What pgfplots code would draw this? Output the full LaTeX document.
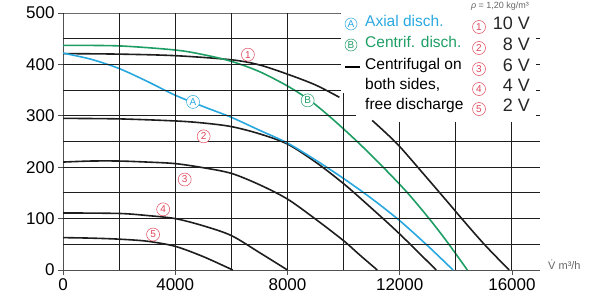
\documentclass[border=0pt]{standalone}
\usepackage{fontspec}
\setmainfont{Liberation Sans}
\usepackage{pgfplots}
\pgfplotsset{compat=1.18}
\definecolor{cblue}{RGB}{41,168,224}
\definecolor{cgreen}{RGB}{30,158,100}
\definecolor{cred}{RGB}{222,70,90}
\definecolor{gridc}{RGB}{80,80,80}
\definecolor{curvec}{RGB}{30,30,30}
\tikzset{
  lab/.style={circle, draw=cred, line width=0.5pt, fill=white, text=cred, inner sep=0pt, minimum size=13pt, font=\fontsize{10}{10}\selectfont},
  labA/.style={lab, draw=cblue, text=cblue},
  labB/.style={lab, draw=cgreen, text=cgreen},
  lgt/.style={anchor=mid west, inner sep=0pt, font=\fontsize{15.5}{15.5}\selectfont},
  lgv/.style={anchor=mid east, inner sep=0pt, font=\fontsize{18}{18}\selectfont, text=black!85},
}
\pgfplotsset{gridplot/.style={curvec, line width=1pt, smooth, mark=none}}
\begin{document}
\begin{tikzpicture}
\begin{axis}[
  name=ax, at={(63pt,28pt)}, anchor=south west,
  width=477pt, height=257pt, scale only axis,
  xmin=0, xmax=17000, ymin=0, ymax=500,
  axis x line*=bottom, axis y line*=left,
  axis line style={-, gridc, line width=0.9pt},
  xtick={0,4000,8000,12000,16000},
  ytick={0,100,200,300,400,500},
  major tick length=5pt, tick align=outside,
  tick style={gridc, line width=0.8pt},
  scaled x ticks=false,
  /pgf/number format/1000 sep={},
  /pgf/number format/assume math mode=true,
  tick label style={font=\fontsize{17}{17}\selectfont},
]
% 10 V
\addplot[curvec, line width=1.6pt, smooth] coordinates {(0,421) (2000,420) (4000,417) (6000,409) (7000,399) (8000,381) (9000,360) (9850,336)};
\addplot[curvec, line width=1.6pt, smooth] coordinates {(11020,291) (11900,246) (12800,190) (13760,129) (14210,100) (15030,49) (15900,0)};
% 8 V
\addplot[curvec, line width=1.6pt, smooth] coordinates {(0,295) (2000,294) (4000,290) (5000,286) (6000,279) (7000,265) (8000,245) (9000,210) (10000,168) (11000,120) (12000,70) (13300,0)};
% 6 V
\addplot[curvec, line width=1.6pt, smooth] coordinates {(0,210) (1000,212) (2000,212) (3000,210) (4000,207) (5000,199) (6000,188) (7000,166) (8000,138) (9000,99) (10000,57) (10560,30) (11200,0)};
% 4 V
\addplot[curvec, line width=1.6pt, smooth] coordinates {(0,111) (2000,110) (3000,106) (4000,100) (5000,86) (6000,67) (7000,34) (8000,0)};
% 2 V
\addplot[curvec, line width=1.6pt, smooth] coordinates {(0,63) (1000,62) (2000,60) (3000,56) (4000,46) (5000,26) (6050,0)};
% Axial
\addplot[cblue, line width=1.6pt, smooth] coordinates {(0,422) (1000,410) (2000,392) (3000,367) (4000,340) (5000,318) (6000,297) (7000,272) (8000,247) (9000,214) (10000,178) (11000,139) (12000,96) (13000,47) (13900,0)};
% Centrifugal
\addplot[cgreen, line width=1.6pt, smooth] coordinates {(0,437) (2000,436) (4000,428) (5000,419) (6000,406) (7000,386) (8000,358) (8800,330) (9600,294) (10560,246) (11500,195) (12280,150) (13050,100) (13700,54) (14410,0)};

% grid lines (the legend area at the top right is left free)
\addplot[gridplot] coordinates {(2000,0) (2000,250) (2000,500)};
\addplot[gridplot] coordinates {(4000,0) (4000,250) (4000,500)};
\addplot[gridplot] coordinates {(6000,0) (6000,250) (6000,500)};
\addplot[gridplot] coordinates {(8000,0) (8000,250) (8000,500)};
\addplot[gridplot] coordinates {(10000,0) (10000,172) (10000,344)};
\addplot[gridplot] coordinates {(12000,0) (12000,143) (12000,287)};
\addplot[gridplot] coordinates {(14000,0) (14000,143) (14000,287)};
\addplot[gridplot] coordinates {(16000,0) (16000,143) (16000,287)};
\addplot[gridplot] coordinates {(0,50) (8500,50) (17000,50)};
\addplot[gridplot] coordinates {(0,100) (8500,100) (17000,100)};
\addplot[gridplot] coordinates {(0,150) (8500,150) (17000,150)};
\addplot[gridplot] coordinates {(0,200) (8500,200) (17000,200)};
\addplot[gridplot] coordinates {(0,250) (8500,250) (17000,250)};
\addplot[gridplot] coordinates {(0,300) (5225,300) (10450,300)};
\addplot[gridplot] coordinates {(0,350) (4960,350) (9920,350)};
\addplot[gridplot] coordinates {(0,400) (4960,400) (9920,400)};
\addplot[gridplot] coordinates {(0,450) (4960,450) (9920,450)};
\addplot[gridplot] coordinates {(0,500) (4960,500) (9920,500)};
\addplot[gridplot] coordinates {(16850,300) (16925,300) (17000,300)};
\addplot[gridplot] coordinates {(16850,350) (16925,350) (17000,350)};
\addplot[gridplot] coordinates {(16850,400) (16925,400) (17000,400)};
\addplot[gridplot] coordinates {(16850,450) (16925,450) (17000,450)};

\node[lab] at (axis cs:6590,419) {1};
\node[lab] at (axis cs:5013,260) {2};
\node[lab] at (axis cs:4338,176) {3};
\node[lab] at (axis cs:3570,118) {4};
\node[lab] at (axis cs:3210,69) {5};
\node[labA] at (axis cs:4635,327) {A};
\node[labB] at (axis cs:8720,330) {B};
\end{axis}
% legend
\node[labA, minimum size=12pt] at (351pt,274pt) {A};
\node[lgt, text=cblue] at (365pt,274pt) {Axial disch.};
\node[labB, minimum size=12pt] at (351pt,253pt) {B};
\node[lgt, text=cgreen] at (365pt,253pt) {Centrif. disch.};
\draw[black, line width=1.5pt] (345pt,231pt) -- (360pt,231pt);
\node[lgt] at (365pt,231pt) {Centrifugal on};
\node[lgt] at (365pt,211pt) {both sides,};
\node[lgt] at (365pt,191pt) {free discharge};
\node[lab, minimum size=13pt] at (479pt,271pt) {1};
\node[lgv] at (530pt,271pt) {10 V};
\node[lab, minimum size=13pt] at (479pt,250pt) {2};
\node[lgv] at (530pt,250pt) {8 V};
\node[lab, minimum size=13pt] at (479pt,229pt) {3};
\node[lgv] at (530pt,229pt) {6 V};
\node[lab, minimum size=13pt] at (479pt,209pt) {4};
\node[lgv] at (530pt,209pt) {4 V};
\node[lab, minimum size=13pt] at (479pt,189pt) {5};
\node[lgv] at (530pt,189pt) {2 V};
\node[inner sep=0pt, font=\fontsize{9}{9}\selectfont, text=black!60] at (500pt,291.5pt) {\textit{ρ} = 1,20 kg/m³};
\node[anchor=mid west, inner sep=0pt, font=\fontsize{11}{11}\selectfont, text=black!60] at (548pt,31pt) {V̇ m³/h};
\pgfresetboundingbox
\path[use as bounding box] (0,0) rectangle (599pt,298pt);
\end{tikzpicture}
\end{document}
